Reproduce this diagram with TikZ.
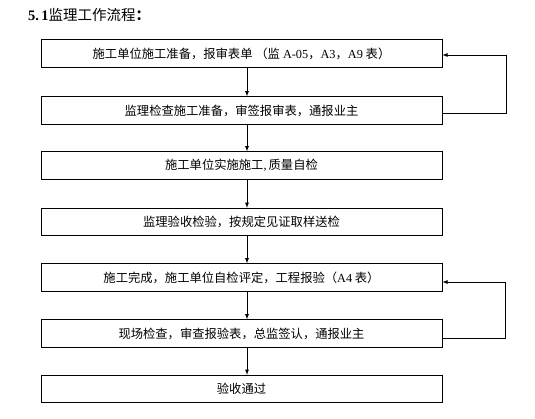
\documentclass[tikz,border=0pt]{standalone}
\usepackage{fontspec}
\setmainfont{Liberation Serif}
\newfontfamily\cjk{Noto Sans CJK SC}
\usepackage{tikz}
\usetikzlibrary{shapes,arrows,positioning,calc}

\tikzset{
  stepbox/.style={draw,thick,minimum width=401pt,minimum height=27.5pt,inner sep=0pt,
    font=\fontsize{12.3}{14}\selectfont\cjk},
  flow/.style={-latex,thick},
  loopline/.style={-latex,thick}
}

\begin{document}
\begin{tikzpicture}[x=1pt,y=1pt]
\useasboundingbox (0,0) rectangle (535,-419);
% Title
\node[anchor=west,inner sep=0pt] (title) at (28,-15) {\fontsize{14.5}{16}\selectfont\textbf{5.\,1}{\cjk 监理工作流程\textbf{：}}};
% Steps
\node[stepbox] (b1) at (241.5,-53.5) {施工单位施工准备，报审表单 （监{\rmfamily\ A-05}，{\rmfamily A3}，{\rmfamily A9} 表）};
\node[stepbox] (b2) at (241.5,-110.5) {监理检查施工准备，审签报审表，通报业主};
\node[stepbox] (b3) at (241.5,-165.5) {施工单位实施施工{\rmfamily,}\,质量自检};
\node[stepbox] (b4) at (241.5,-222) {监理验收检验，按规定见证取样送检};
\node[stepbox] (b5) at (241.5,-277.5) {施工完成，施工单位自检评定，工程报验（{\rmfamily A4} 表）};
\node[stepbox] (b6) at (241.5,-333.5) {现场检查，审查报验表，总监签认，通报业主};
\node[stepbox] (b7) at (241.5,-389) {验收通过};
% Arrows down
\foreach \a/\b in {b1/b2,b2/b3,b3/b4,b4/b5,b5/b6,b6/b7}
  \draw[flow] ($(\a.south)+(5.5,0)$) -- ($(\b.north)+(5.5,0)$);
% Feedback loops
\draw[loopline] ($(b2.east)+(0,-3)$) -| ($(b1.east)+(64,-1.5)$) -- ($(b1.east)+(0,-1.5)$);
\draw[loopline] ($(b6.east)+(0,-4.5)$) -| ($(b5.east)+(63,-4.5)$) -- ($(b5.east)+(0,-4.5)$);
\end{tikzpicture}
\end{document}
